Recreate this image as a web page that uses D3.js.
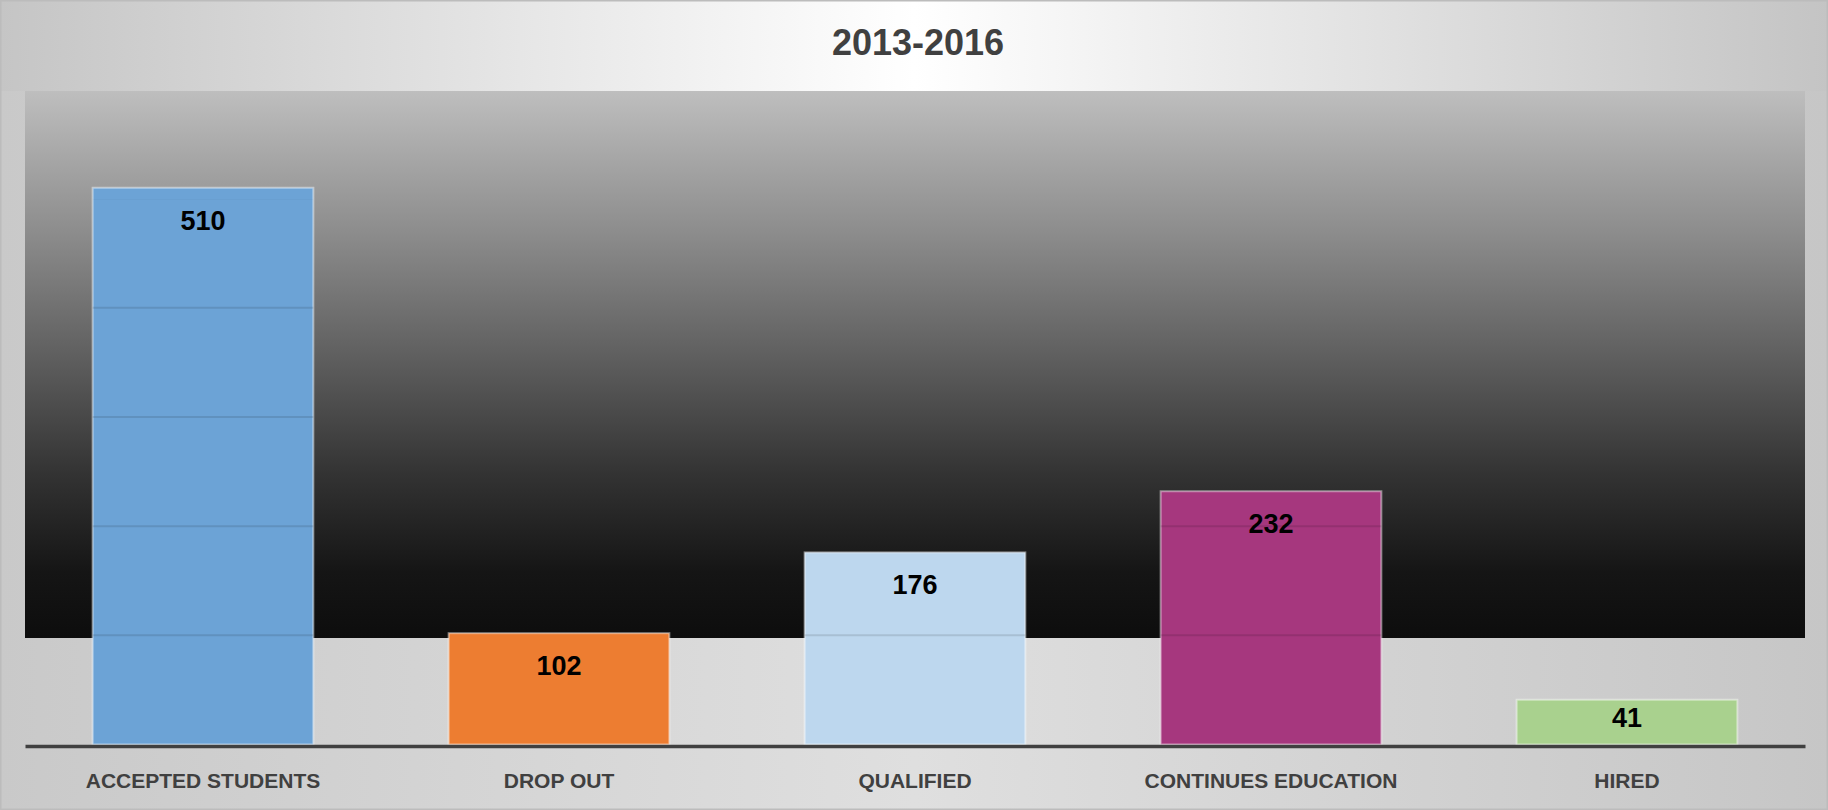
<!DOCTYPE html>
<html lang="en">
<head>
    <meta charset="UTF-8">
    <title>2013-2016</title>
    <script type="text/javascript" src="https://cdn.jsdelivr.net/npm/d3@7"></script>
    <style type="text/css">
        body { margin: 0; background: #ffffff; }
        svg { display: block; }
    </style>
</head>
<body>
    <script type="text/javascript">
        //Data
        var title = "2013-2016";
        var categories = ["ACCEPTED STUDENTS", "DROP OUT", "QUALIFIED", "CONTINUES EDUCATION", "HIRED"];
        var values = [510, 102, 176, 232, 41];
        var yMax = 600;

        //Palette
        var colors = ["#6ca3d6", "#ed7d31", "#bdd7ee", "#a6377e", "#a9d18e"];

        //Width and height
        var w = 1828;
        var h = 810;
        var plot = { left: 25, right: 1805, top: 91, zero: 744.5, scaleTop: 89.5, axis: 746, darkBottom: 638 };

        //Create SVG element
        var svg = d3.select("body")
            .append("svg")
            .attr("width", w)
            .attr("height", h);

        var defs = svg.append("defs");

        //Background gradients
        var topGrad = defs.append("linearGradient").attr("id", "topBg");
        topGrad.append("stop").attr("offset", "0%").attr("stop-color", "#c5c5c5");
        topGrad.append("stop").attr("offset", "50%").attr("stop-color", "#ffffff");
        topGrad.append("stop").attr("offset", "100%").attr("stop-color", "#c4c4c4");

        var lowGrad = defs.append("linearGradient").attr("id", "lowBg");
        lowGrad.append("stop").attr("offset", "0%").attr("stop-color", "#c9c9c9");
        lowGrad.append("stop").attr("offset", "50%").attr("stop-color", "#dfdfdf");
        lowGrad.append("stop").attr("offset", "100%").attr("stop-color", "#c6c6c6");

        var darkGrad = defs.append("linearGradient").attr("id", "darkBg")
            .attr("x1", 0).attr("y1", 0).attr("x2", 0).attr("y2", 1);
        [[0, "#bebebe"], [0.25, "#8e8e8e"], [0.5, "#5c5c5c"], [0.7, "#333333"], [0.88, "#151515"], [1, "#0d0d0d"]]
            .forEach(function(s) {
                darkGrad.append("stop").attr("offset", s[0]).attr("stop-color", s[1]);
            });

        svg.append("rect").attr("width", w).attr("height", h).attr("fill", "url(#lowBg)");
        svg.append("rect").attr("width", w).attr("height", plot.top).attr("fill", "url(#topBg)");
        svg.append("rect")
            .attr("x", plot.left).attr("y", plot.top)
            .attr("width", plot.right - plot.left)
            .attr("height", plot.darkBottom - plot.top)
            .attr("fill", "url(#darkBg)");
        svg.append("rect")
            .attr("x", 0.75).attr("y", 0.75)
            .attr("width", w - 1.5).attr("height", h - 1.5)
            .attr("fill", "none")
            .attr("stroke", "#bcbcbc")
            .attr("stroke-width", 1.5);

        //Create scale functions
        var xScale = d3.scaleBand()
            .domain(categories)
            .range([plot.left, plot.right])
            .paddingInner(0.38)
            .paddingOuter(0.19);

        var yScale = d3.scaleLinear()
            .domain([0, yMax])
            .range([plot.zero, plot.scaleTop]);

        var colorScale = d3.scaleOrdinal()
            .domain(categories)
            .range(colors);

        //Create bars
        svg.selectAll("rect.bar")
            .data(values)
            .enter()
            .append("rect")
            .attr("class", "bar")
            .attr("x", function(d, i) { return xScale(categories[i]); })
            .attr("y", function(d) { return yScale(d); })
            .attr("width", xScale.bandwidth())
            .attr("height", function(d) { return yScale(0) - yScale(d); })
            .attr("fill", function(d, i) { return colorScale(categories[i]); })
            .attr("stroke", "rgba(255,255,255,0.45)")
            .attr("stroke-width", 2);

        //Gridlines, only seen through the bars
        var clip = defs.append("clipPath").attr("id", "barClip");
        clip.selectAll("rect")
            .data(values)
            .enter()
            .append("rect")
            .attr("x", function(d, i) { return xScale(categories[i]); })
            .attr("y", function(d) { return yScale(d) + 12; })
            .attr("width", xScale.bandwidth())
            .attr("height", function(d) { return yScale(0) - yScale(d); });

        svg.append("g")
            .attr("clip-path", "url(#barClip)")
            .selectAll("line")
            .data(yScale.ticks(6).filter(function(t) { return t > 0; }))
            .enter()
            .append("line")
            .attr("x1", plot.left)
            .attr("x2", plot.right)
            .attr("y1", function(d) { return yScale(d); })
            .attr("y2", function(d) { return yScale(d); })
            .attr("stroke", "rgba(0,0,0,0.11)")
            .attr("stroke-width", 2);

        //X axis
        var xAxis = d3.axisBottom(xScale).tickSize(0).tickPadding(0);
        var axisG = svg.append("g")
            .attr("transform", "translate(0," + plot.axis + ")")
            .call(xAxis);
        axisG.select(".domain")
            .attr("stroke", "#404040")
            .attr("stroke-width", 3.5);
        axisG.selectAll("text")
            .attr("y", 42)
            .attr("dy", 0)
            .attr("fill", "#404040")
            .attr("font-family", "'Liberation Sans', Arial, sans-serif")
            .attr("font-weight", "bold")
            .attr("font-size", "21px");

        //Create labels
        svg.selectAll("text.value")
            .data(values)
            .enter()
            .append("text")
            .attr("class", "value")
            .text(function(d) { return d; })
            .attr("x", function(d, i) { return xScale(categories[i]) + xScale.bandwidth() / 2; })
            .attr("y", function(d) { return Math.min(yScale(d) + 42, yScale(0) - 18); })
            .attr("text-anchor", "middle")
            .attr("font-family", "'Liberation Sans', Arial, sans-serif")
            .attr("font-weight", "bold")
            .attr("font-size", "27px")
            .attr("fill", "#000000");

        //Title
        svg.append("text")
            .text(title)
            .attr("x", 918)
            .attr("y", 55)
            .attr("text-anchor", "middle")
            .attr("font-family", "'Liberation Sans', Arial, sans-serif")
            .attr("font-weight", "bold")
            .attr("font-size", "36px")
            .attr("fill", "#404040");
    </script>
</body>
</html>
